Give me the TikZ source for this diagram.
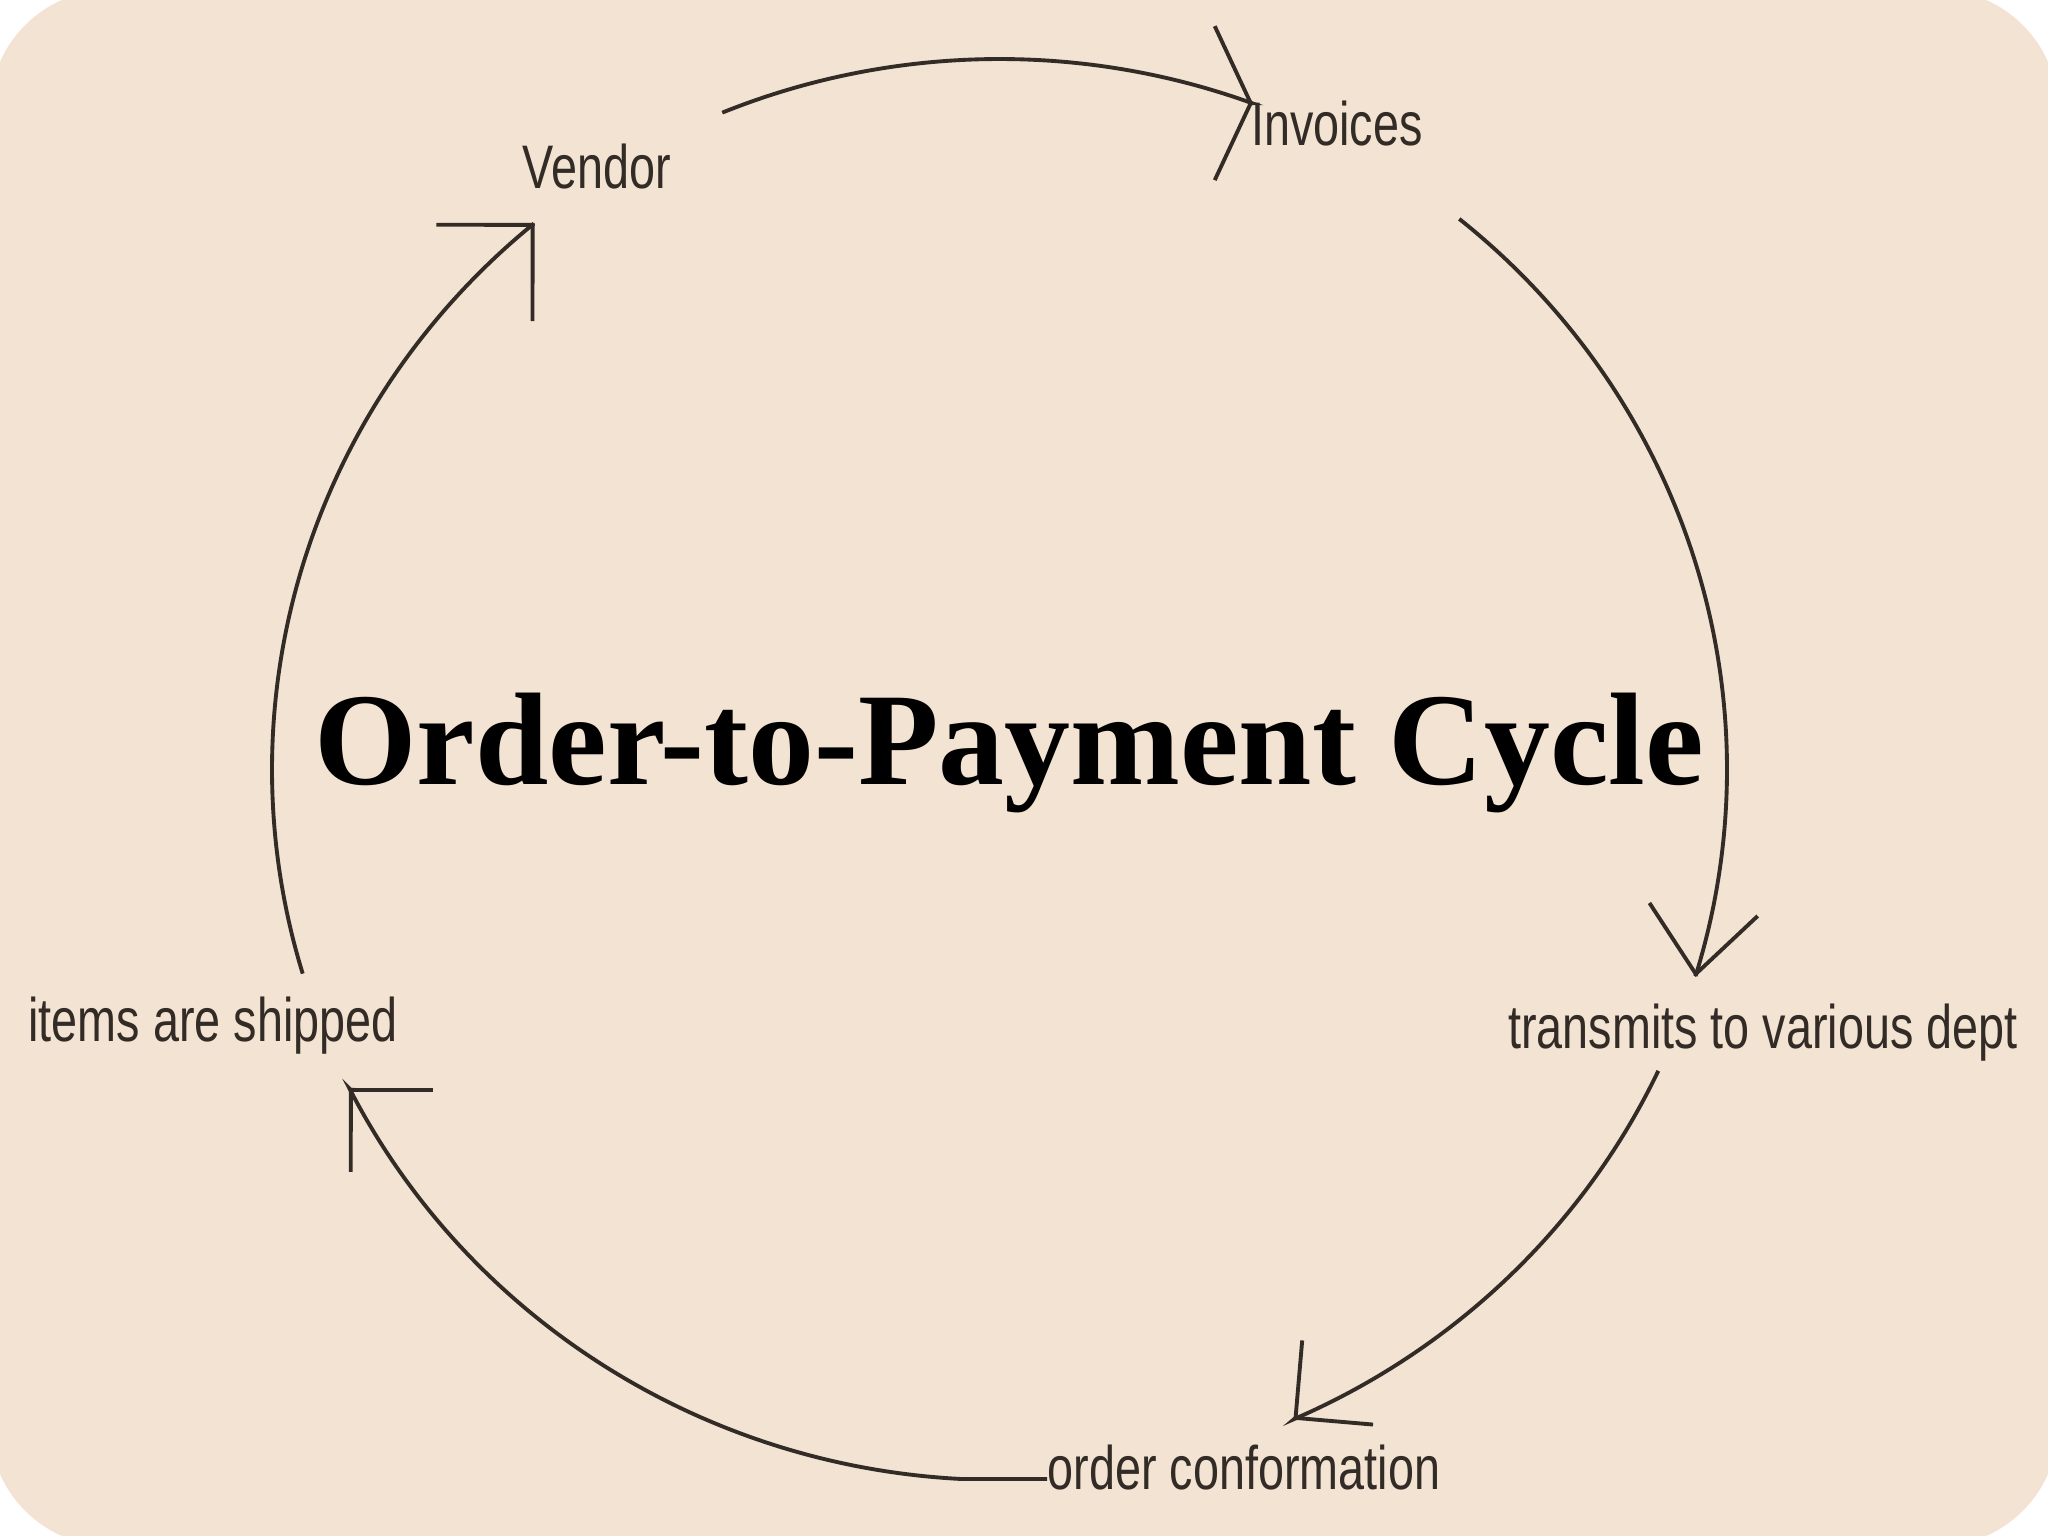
\documentclass[tikz,border=0pt]{standalone}
\usepackage{fontspec}
\usepackage{graphicx}
\usetikzlibrary{arrows.meta}
\newfontfamily\labelfont{Liberation Sans}
\newfontfamily\titlefont{Liberation Serif}
\newcommand{\squeezed}[1]{\scalebox{0.76}[1]{#1}}
\definecolor{paper}{RGB}{243,227,210}
\definecolor{ink}{RGB}{50,43,38}
\tikzset{
        % Labels round the cycle
        step_label/.style={font=\labelfont\fontsize{17.5}{20}\selectfont, text=ink, inner sep=0pt, anchor=base},
        % Title in the middle
        cycle_title/.style={font=\titlefont\bfseries\fontsize{37.5}{40}\selectfont, text=black, inner sep=0pt, anchor=base},
        % Arcs between the labels
        flow/.style={draw=ink, line width=1.1pt},
        % Ellipse the arcs lie on
        ring/.style={x radius=7.275, y radius=7.105}
}

\begin{document}
\begin{tikzpicture}
    \useasboundingbox (0,0) rectangle (20.48,15.36);
    \fill[white] (0,0) rectangle (20.48,15.36);
    \fill[paper, rounded corners=1.2cm] (-0.1,-0.1) rectangle (20.58,15.46);

    \node[cycle_title] (title) at (10.09,7.51) {Order-to-Payment Cycle};

    \node[step_label] (vendor) at (5.97,13.47) {\squeezed{Vendor}};
    \node[step_label] (invoices) at (13.37,13.90) {\squeezed{Invoices}};
    \node[step_label] (transmits) at (17.63,4.87) {\squeezed{transmits to various dept}};
    \node[step_label] (orderconf) at (12.44,0.46) {\squeezed{order conformation}};
    \node[step_label] (shipped) at (2.13,4.94) {\squeezed{items are shipped}};

    % Ends of the arcs
    \coordinate (hub) at (9.995,7.665);
    \path (hub) ++(112.4:7.275 and 7.105) coordinate (vendor_out);
    \path (hub) ++(50.8:7.275 and 7.105) coordinate (invoices_out);
    \path (hub) ++(-25.1:7.275 and 7.105) coordinate (transmits_out);
    \path (hub) ++(-93:7.275 and 7.105) coordinate (orderconf_out);
    \path (hub) ++(196.7:7.275 and 7.105) coordinate (shipped_out);

    % a short last piece sets the way each head points
    \draw[flow, -{Straight Barb[length=0.36cm,width=1.54cm]}]
        (vendor_out) arc[start angle=112.4, end angle=69.7, ring] -- ++(0:0.01);
    \draw[flow, -{Straight Barb[length=0.65cm,width=1.09cm]}]
        (invoices_out) arc[start angle=50.8, end angle=-16.9, ring] -- ++(-97:0.01);
    \draw[flow, -{Straight Barb[length=0.55cm,width=1.1cm]}]
        (transmits_out) arc[start angle=-25.1, end angle=-66.1, ring] -- ++(-140:0.01);
    \draw[flow, -{Straight Barb[length=0.58cm,width=1.16cm]}]
        ([yshift=0.11cm]orderconf.base west) -- (orderconf_out) arc[start angle=-93, end angle=-153.3, ring] -- ++(135:0.01);
    \draw[flow, -{Straight Barb[length=0.68cm,width=1.36cm]}]
        (shipped_out) arc[start angle=196.7, end angle=129.8, ring] -- ++(45:0.01);
\end{tikzpicture}
\end{document}
